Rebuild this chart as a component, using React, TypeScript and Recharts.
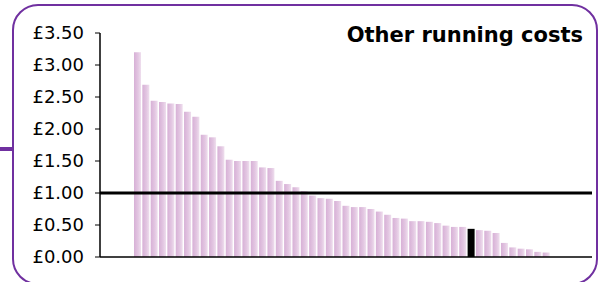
import React from "react";
import { BarChart, Bar, XAxis, YAxis, ReferenceLine, Cell } from "recharts";

// --- data ---

const costs = [
  3.2, 2.69, 2.44, 2.42, 2.4, 2.39, 2.27, 2.19, 1.91, 1.87,
  1.73, 1.52, 1.5, 1.5, 1.5, 1.4, 1.39, 1.19, 1.14, 1.09,
  1.03, 0.96, 0.92, 0.91, 0.875, 0.8, 0.78, 0.78, 0.75, 0.71,
  0.66, 0.61, 0.6, 0.56, 0.56, 0.55, 0.53, 0.49, 0.47, 0.47,
  0.44, 0.42, 0.41, 0.375, 0.22, 0.15, 0.13, 0.12, 0.08, 0.07,
];

const highlighted = 40; // the black bar
const benchmark = 1.0;
const yTicks = [0, 0.5, 1, 1.5, 2, 2.5, 3, 3.5];
const title = "Other running costs";

const data = costs.map((v, i) => ({ name: `#${i + 1}`, value: v }));

const font = "Verdana, 'DejaVu Sans', sans-serif";

export default function App() {
  return (
    <div
      style={{
        position: "fixed",
        left: 0,
        top: 0,
        width: 601,
        height: 282,
        background: "#fff",
        overflow: "hidden",
      }}
    >
      <BarChart
        width={601}
        height={282}
        data={data}
        margin={{ top: 33, right: 9, bottom: 24, left: 10 }}
        barSize={7}
      >
        <defs>
          <linearGradient id="barFill" x1="0" y1="0" x2="1" y2="0">
            <stop offset="0%" stopColor="#d7b0d6" />
            <stop offset="60%" stopColor="#e3c7e2" />
            <stop offset="100%" stopColor="#efdfee" />
          </linearGradient>
        </defs>
        <XAxis
          dataKey="name"
          height={1}
          tick={false}
          tickLine={false}
          axisLine={{ stroke: "#000", strokeWidth: 1.5 }}
          padding={{ left: 33, right: 42 }}
        />
        <YAxis
          width={90}
          domain={[0, 3.5]}
          ticks={yTicks}
          interval={0}
          tickSize={5}
          tickMargin={11}
          tickFormatter={(v: number) => `£${v.toFixed(2)}`}
          tick={{ fill: "#000", fontSize: 18, fontFamily: font }}
          tickLine={{ stroke: "#000" }}
          axisLine={{ stroke: "#000", strokeWidth: 1.5 }}
        />
        <Bar dataKey="value" fill="url(#barFill)" isAnimationActive={false}>
          {data.map((d, i) => (
            <Cell key={d.name} fill={i === highlighted ? "#000" : "url(#barFill)"} />
          ))}
        </Bar>
        <ReferenceLine y={benchmark} stroke="#000" strokeWidth={3} />
      </BarChart>

      {/* frame + title drawn on top */}
      <svg
        width={601}
        height={282}
        style={{ position: "absolute", left: 0, top: 0, pointerEvents: "none" }}
      >
        <rect x={13} y={5} width={584} height={279} rx={25} fill="none" stroke="#7030a0" strokeWidth={2} />
        <rect x={0} y={147} width={13} height={4} fill="#7030a0" />
        <text
          x={583}
          y={42}
          textAnchor="end"
          fontFamily={font}
          fontWeight="bold"
          fontSize={21}
          fill="#000"
        >
          {title}
        </text>
      </svg>
    </div>
  );
}
